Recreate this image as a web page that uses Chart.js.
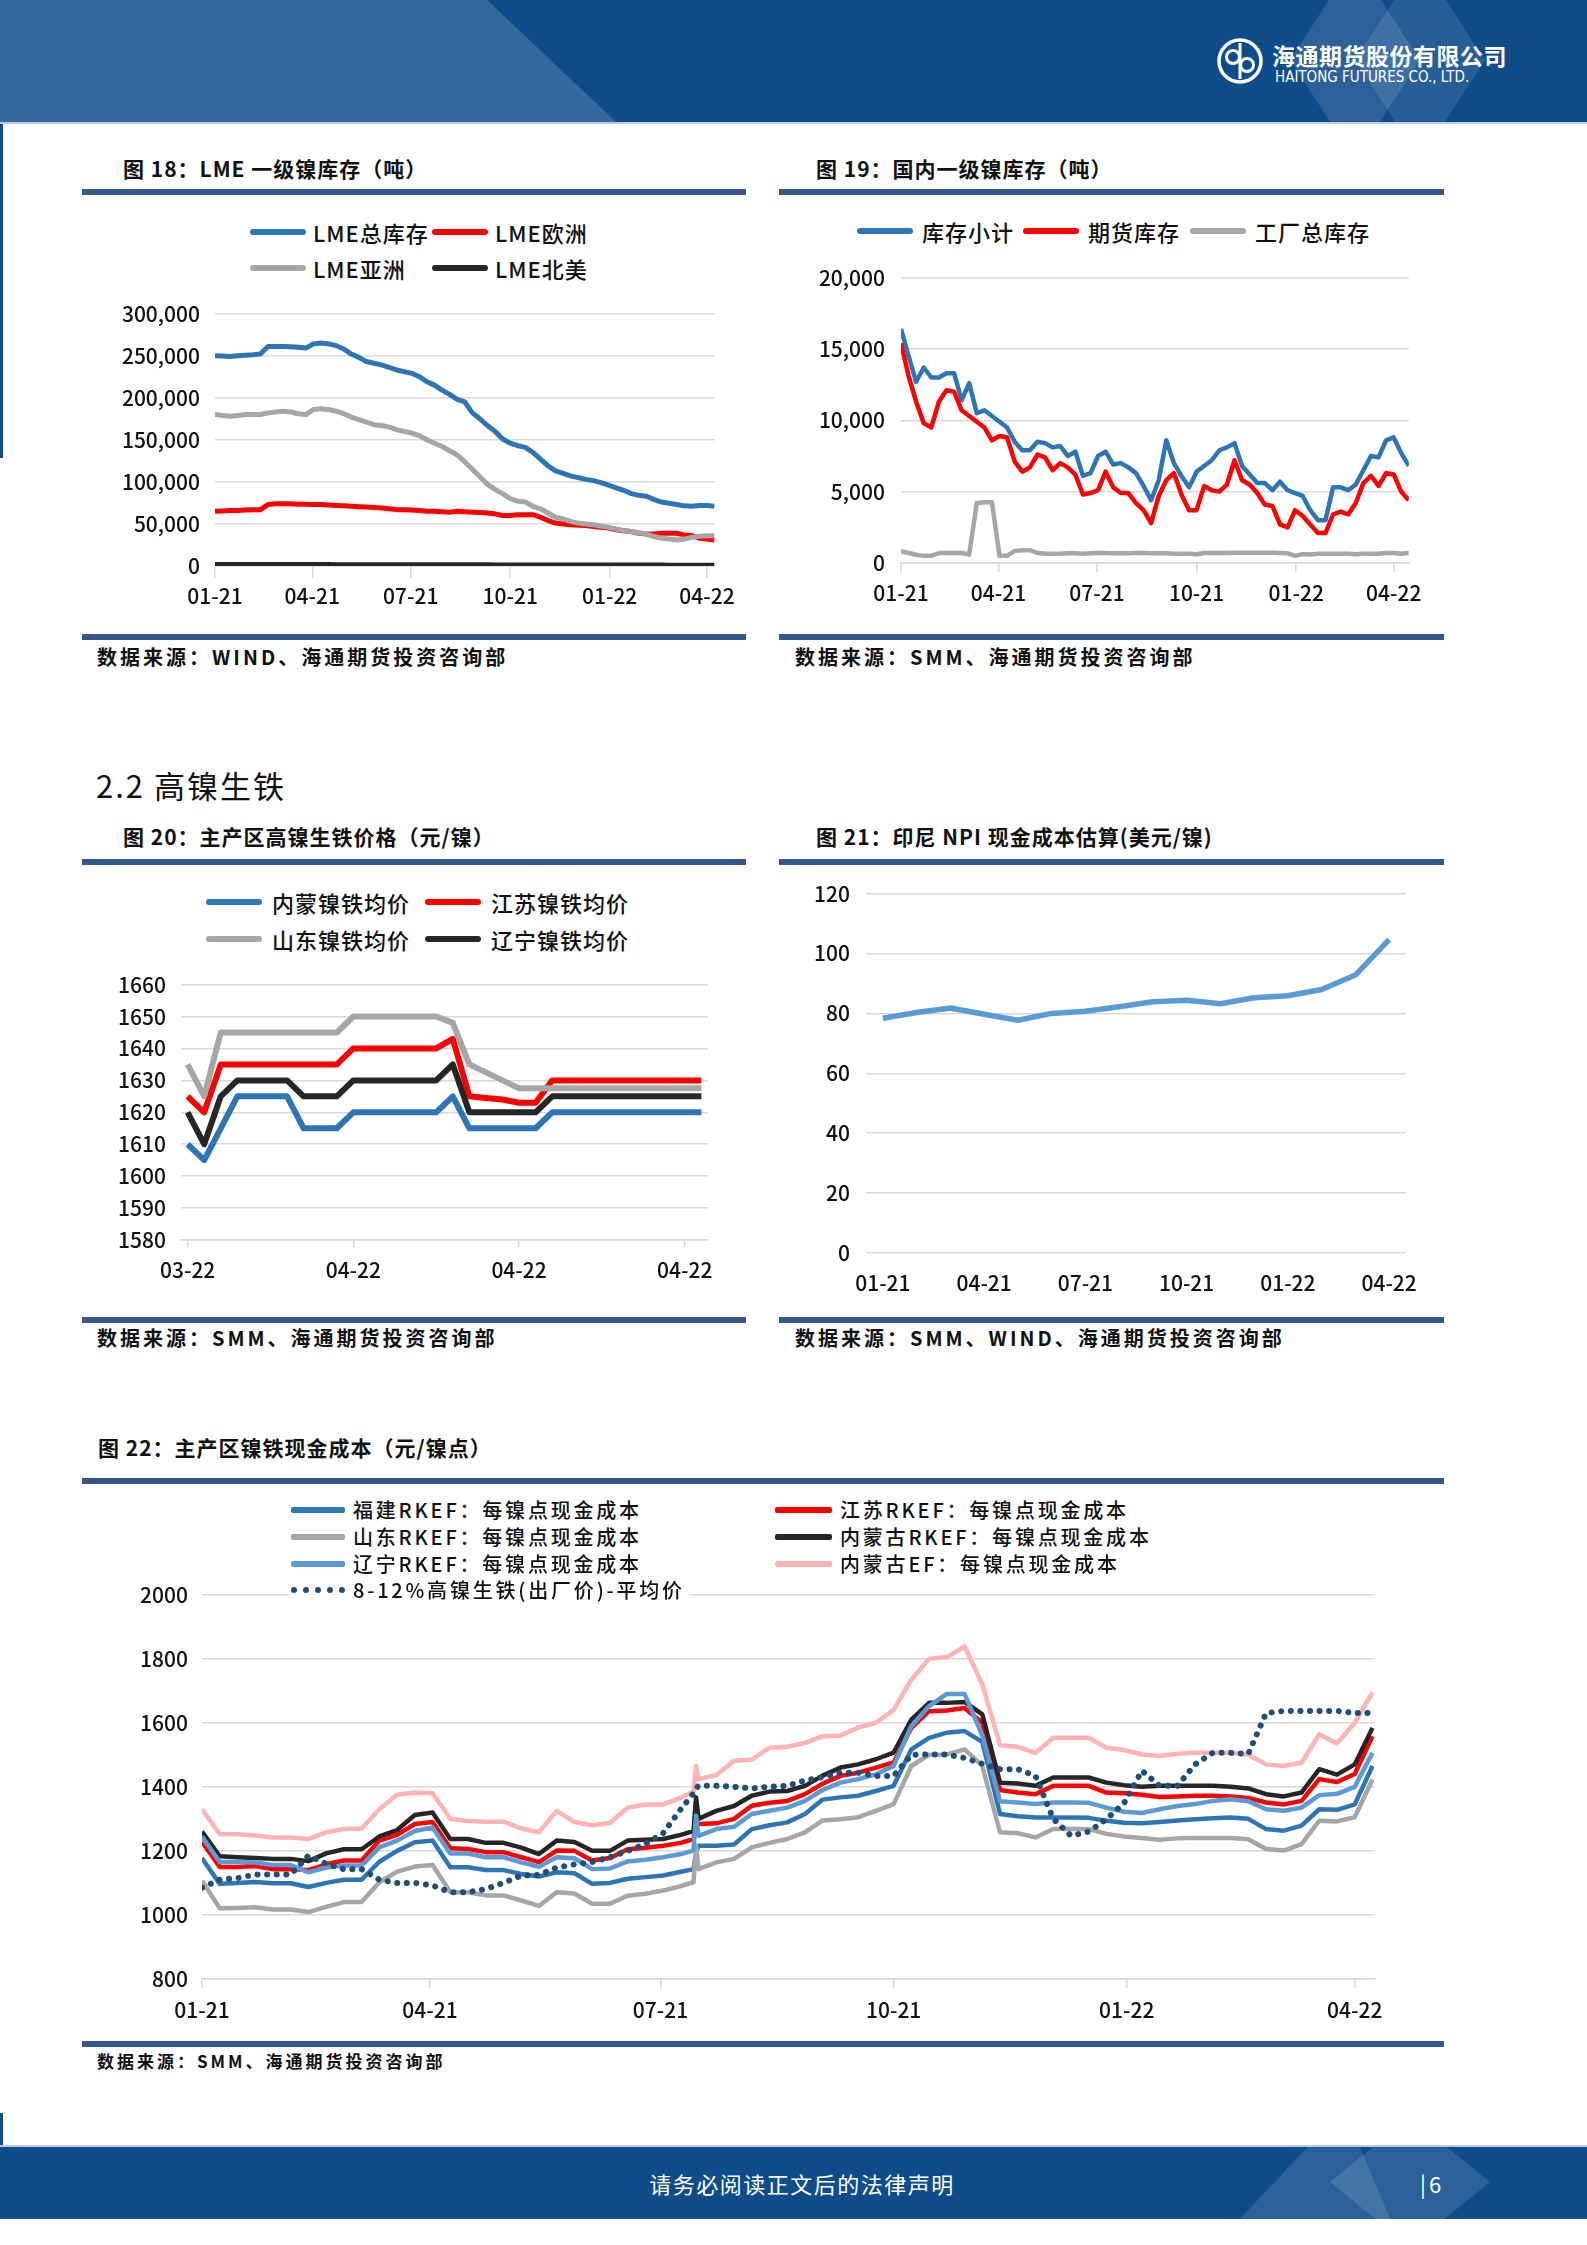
<!DOCTYPE html>
<html lang="zh-CN">
<head>
<meta charset="utf-8">
<title>镍库存与镍铁成本</title>
<script src="https://cdn.jsdelivr.net/npm/chart.js@4.4.1/dist/chart.umd.min.js"></script>
<style>
  html, body { margin: 0; padding: 0; background: #fff; }
  #page { position: relative; width: 1587px; height: 2245px; overflow: hidden; background: #fff;
    font-family: "Noto Sans CJK SC", "Noto Sans", sans-serif; color: #111; }
  .abs { position: absolute; }
  .title { position: absolute; font-size: 21px; font-weight: 700; line-height: 1; white-space: nowrap;
    transform: translateY(-50%); letter-spacing: 1px; }
  .rule { position: absolute; height: 6px; background: #34588c; }
  .src { position: absolute; font-size: 20px; font-weight: 700; line-height: 1; white-space: nowrap;
    transform: translateY(-50%); letter-spacing: 3px; }
  .lg { position: absolute; z-index: 2; display: flex; align-items: center; white-space: nowrap; line-height: 1;
    transform: translateY(-50%); font-size: 22px; font-weight: 500; letter-spacing: 1px; }
  .lg.small { font-size: 20px; letter-spacing: 2.8px; }
  .sw { display: inline-block; height: 6px; border-radius: 3px; }
  canvas { position: absolute; }
</style>
</head>
<body>
<div id="page">

  <!-- header band -->
  <div class="abs" style="left:0;top:0;width:1587px;height:122px;background:#0e4c8a;overflow:hidden">
    <div class="abs" style="left:0;top:0;width:620px;height:122px;background:#35699b;clip-path:polygon(0 0,487px 0,616px 122px,0 122px)"></div>
    <div class="abs" style="left:1290px;top:-40px;width:130px;height:200px;background:rgba(255,255,255,0.12);clip-path:polygon(50% 0,100% 50%,50% 100%,0 50%)"></div>
    <div class="abs" style="left:1355px;top:-40px;width:130px;height:200px;background:rgba(255,255,255,0.10);clip-path:polygon(50% 0,100% 50%,50% 100%,0 50%)"></div>
    <svg class="abs" style="left:1216px;top:37px" width="48" height="48" viewBox="0 0 48 48">
      <circle cx="24" cy="24" r="21" fill="none" stroke="#fff" stroke-width="3.5"/>
      <circle cx="17" cy="20" r="6.5" fill="none" stroke="#fff" stroke-width="3"/>
      <circle cx="31" cy="28" r="6.5" fill="none" stroke="#fff" stroke-width="3"/>
      <path d="M24 6 V42" stroke="#fff" stroke-width="3"/>
    </svg>
    <div class="abs" style="left:1272px;top:44px;font-size:23px;font-weight:700;color:#fff;letter-spacing:0.5px;line-height:1;white-space:nowrap">海通期货股份有限公司</div>
    <div class="abs" style="left:1275px;top:70px;font-size:15px;color:#fff;line-height:1;white-space:nowrap;font-family:'Liberation Sans Narrow','DejaVu Sans Condensed',sans-serif">HAITONG FUTURES CO., LTD.</div>
  </div>
  <div class="abs" style="left:0;top:122px;width:1587px;height:2px;background:#b7cbe2"></div>
  <div class="abs" style="left:0;top:124px;width:3px;height:334px;background:#0e4c8a"></div>

  <!-- 图18 / 图19 -->
  <div class="title" style="left:123px;top:168px">图 18：LME 一级镍库存（吨）</div>
  <div class="title" style="left:816px;top:168px">图 19：国内一级镍库存（吨）</div>
  <div class="rule" style="left:82px;top:189px;width:664px"></div>
  <div class="rule" style="left:779px;top:189px;width:665px"></div>

  <div class="lg" style="left:250px;top:232px"><span class="sw" style="width:56px;background:#2e75b6;margin-right:7px"></span>LME总库存</div>
  <div class="lg" style="left:432px;top:232px"><span class="sw" style="width:56px;background:#ff0000;margin-right:7px"></span>LME欧洲</div>
  <div class="lg" style="left:250px;top:268px"><span class="sw" style="width:56px;background:#a6a6a6;margin-right:7px"></span>LME亚洲</div>
  <div class="lg" style="left:432px;top:268px"><span class="sw" style="width:56px;background:#262626;margin-right:7px"></span>LME北美</div>

  <div class="lg" style="left:857px;top:231px"><span class="sw" style="width:56px;background:#2e75b6;margin-right:9px"></span>库存小计</div>
  <div class="lg" style="left:1023px;top:231px"><span class="sw" style="width:56px;background:#ff0000;margin-right:9px"></span>期货库存</div>
  <div class="lg" style="left:1190px;top:231px"><span class="sw" style="width:56px;background:#a6a6a6;margin-right:9px"></span>工厂总库存</div>

  <canvas id="c18" width="640" height="334" style="left:100px;top:286px"></canvas>
  <canvas id="c19" width="640" height="371" style="left:790px;top:249px"></canvas>

  <div class="rule" style="left:82px;top:634px;width:664px"></div>
  <div class="rule" style="left:779px;top:634px;width:665px"></div>
  <div class="src" style="left:97px;top:657px">数据来源：WIND、海通期货投资咨询部</div>
  <div class="src" style="left:795px;top:657px">数据来源：SMM、海通期货投资咨询部</div>

  <!-- 2.2 -->
  <div class="abs" style="left:96px;top:769px;font-size:31px;letter-spacing:2px;line-height:1;white-space:nowrap">2.2 高镍生铁</div>

  <!-- 图20 / 图21 -->
  <div class="title" style="left:123px;top:836px">图 20：主产区高镍生铁价格（元/镍）</div>
  <div class="title" style="left:816px;top:836px">图 21：印尼 NPI 现金成本估算(美元/镍)</div>
  <div class="rule" style="left:82px;top:859px;width:664px"></div>
  <div class="rule" style="left:779px;top:859px;width:665px"></div>

  <div class="lg" style="left:206px;top:902px"><span class="sw" style="width:56px;background:#2e75b6;margin-right:10px"></span>内蒙镍铁均价</div>
  <div class="lg" style="left:425px;top:902px"><span class="sw" style="width:56px;background:#ff0000;margin-right:10px"></span>江苏镍铁均价</div>
  <div class="lg" style="left:206px;top:939px"><span class="sw" style="width:56px;background:#a6a6a6;margin-right:10px"></span>山东镍铁均价</div>
  <div class="lg" style="left:425px;top:939px"><span class="sw" style="width:56px;background:#262626;margin-right:10px"></span>辽宁镍铁均价</div>

  <canvas id="c20" width="640" height="343" style="left:90px;top:957px"></canvas>
  <canvas id="c21" width="650" height="435" style="left:780px;top:865px"></canvas>

  <div class="rule" style="left:82px;top:1317px;width:664px"></div>
  <div class="rule" style="left:779px;top:1317px;width:665px"></div>
  <div class="src" style="left:97px;top:1338px">数据来源：SMM、海通期货投资咨询部</div>
  <div class="src" style="left:795px;top:1338px">数据来源：SMM、WIND、海通期货投资咨询部</div>

  <!-- 图22 -->
  <div class="title" style="left:98px;top:1447px">图 22：主产区镍铁现金成本（元/镍点）</div>
  <div class="rule" style="left:82px;top:1478px;width:1362px"></div>

  <div class="lg small" style="left:291px;top:1510px"><span class="sw" style="width:54px;background:#2e75b6;border-radius:2px;margin-right:8px"></span>福建RKEF：每镍点现金成本</div>
  <div class="lg small" style="left:775px;top:1510px"><span class="sw" style="width:57px;background:#ff0000;border-radius:2px;margin-right:8px"></span>江苏RKEF：每镍点现金成本</div>
  <div class="lg small" style="left:291px;top:1537px"><span class="sw" style="width:54px;background:#a6a6a6;border-radius:2px;margin-right:8px"></span>山东RKEF：每镍点现金成本</div>
  <div class="lg small" style="left:775px;top:1537px"><span class="sw" style="width:57px;background:#262626;border-radius:2px;margin-right:8px"></span>内蒙古RKEF：每镍点现金成本</div>
  <div class="lg small" style="left:291px;top:1564px"><span class="sw" style="width:54px;background:#5b9bd5;border-radius:2px;margin-right:8px"></span>辽宁RKEF：每镍点现金成本</div>
  <div class="lg small" style="left:775px;top:1564px"><span class="sw" style="width:57px;background:#ffb3b3;border-radius:2px;margin-right:8px"></span>内蒙古EF：每镍点现金成本</div>
  <div class="lg small" style="left:289px;top:1590px;background:#fff;padding:2px 4px 2px 2px"><span style="display:inline-block;width:54px;border-top:6px dotted #1f4e79;margin-right:8px"></span>8-12%高镍生铁(出厂价)-平均价</div>

  <canvas id="c22" width="1300" height="472" style="left:100px;top:1568px"></canvas>

  <div class="rule" style="left:82px;top:2041px;width:1362px"></div>
  <div class="src" style="left:97px;top:2060px;font-size:17px;letter-spacing:3px">数据来源：SMM、海通期货投资咨询部</div>

  <!-- footer band -->
  <div class="abs" style="left:0;top:2113px;width:3px;height:70px;background:#0e4c8a"></div>
  <div class="abs" style="left:0;top:2145px;width:1587px;height:2px;background:#b7cbe2"></div>
  <div class="abs" style="left:0;top:2147px;width:1587px;height:72px;background:#0e4c8a;overflow:hidden">
    <div class="abs" style="left:1240px;top:0;width:150px;height:72px;background:rgba(255,255,255,0.12);clip-path:polygon(45% 0,80% 0,100% 100%,0 100%)"></div>
    <div class="abs" style="left:1330px;top:-30px;width:160px;height:130px;background:rgba(255,255,255,0.12);clip-path:polygon(50% 0,100% 50%,50% 100%,0 50%)"></div>
    <div class="abs" style="left:0;top:36px;width:1604px;text-align:center;transform:translateY(-50%);font-size:22px;color:#fff;letter-spacing:1.5px;line-height:1">请务必阅读正文后的法律声明</div>
    <div class="abs" style="left:1420px;top:36px;transform:translateY(-50%);font-size:22px;color:#fff;line-height:1;letter-spacing:3px">|6</div>
  </div>
</div>

<script>
// shared quarter ticks (days since 2021-01-01)
const quarterTicks = [0, 90, 181, 273, 365, 455];
const quarterLabels = ['01-21', '04-21', '07-21', '10-21', '01-22', '04-22'];

// 图18 LME stocks, weekly, tonnes
const lmeTotal = [250000, 249500, 249000, 250000, 250500, 251000, 252000, 261000, 261000, 261000,
  260500, 260000, 259000, 264000, 265000, 264000, 262000, 258000, 252000, 248000,
  243000, 241000, 239000, 236000, 233000, 231000, 229000, 225000, 219000, 215000,
  209000, 204000, 198000, 195000, 182000, 175000, 167000, 160000, 151000, 146000,
  143000, 141000, 135000, 127000, 119000, 113000, 110000, 107000, 105000, 103000,
  101500, 99000, 96000, 93000, 90000, 86000, 84000, 83000, 79000, 76000,
  74500, 73000, 71500, 71000, 72000, 72000, 71000];
const lmeEurope = [65000, 65500, 66000, 66000, 66500, 67000, 67000, 73000, 74000, 74000,
  74000, 73500, 73500, 73000, 73000, 72500, 72000, 71500, 71000, 70500,
  70000, 69500, 69000, 68000, 67000, 67000, 66500, 66000, 65000, 65000,
  64500, 64000, 65000, 64500, 64000, 63500, 63000, 62000, 60000, 60000,
  61000, 61000, 61000, 58000, 54000, 51000, 50000, 49000, 48500, 48000,
  47000, 46000, 45000, 43000, 42000, 41000, 39000, 38000, 38000, 39000,
  39000, 39000, 37000, 36000, 33000, 32000, 31000];
const lmeAsia = [180000, 179000, 178000, 179000, 180000, 180000, 180000, 182000, 183000, 184000,
  183000, 181000, 180000, 186000, 187000, 186000, 184000, 181000, 177000, 174000,
  171000, 168000, 167000, 165000, 162000, 160000, 158000, 155000, 150000, 146000,
  142000, 137000, 132000, 124000, 115000, 106000, 97000, 91000, 86000, 80000,
  77000, 76000, 71000, 68000, 63000, 58000, 56000, 53000, 51000, 50000,
  49000, 47500, 46000, 44000, 42000, 41000, 39500, 38000, 35000, 33000,
  32000, 31000, 32000, 34000, 35500, 36000, 36000];
const lmeNorthAmerica = [1800, 1800, 1800, 1800, 1800, 1800, 1800, 1700, 1700, 1700,
  1700, 1700, 1700, 1700, 1700, 1700, 1600, 1600, 1600, 1600,
  1600, 1600, 1600, 1500, 1500, 1500, 1500, 1500, 1500, 1500,
  1400, 1400, 1400, 1400, 1400, 1400, 1400, 1300, 1300, 1300,
  1300, 1300, 1300, 1300, 1300, 1200, 1200, 1200, 1200, 1200,
  1200, 1200, 1200, 1100, 1100, 1100, 1100, 1100, 1100, 1100,
  1000, 1000, 1000, 1000, 1000, 1000, 1000];

// 图19 domestic stocks, weekly, tonnes
const cnSubtotal = [16400, 14500, 12700, 13700, 13000, 13000, 13300, 13300, 11400, 12600,
  10500, 10700, 10300, 9900, 9500, 8500, 7900, 7900, 8500, 8400,
  8100, 8200, 7500, 7800, 6100, 6300, 7500, 7800, 6900, 7000,
  6700, 6300, 5400, 4400, 5800, 8600, 7000, 6100, 5300, 6400,
  6800, 7200, 7900, 8100, 8400, 6800, 6200, 5600, 5600, 5100,
  5700, 5100, 4900, 4700, 3700, 3000, 3000, 5300, 5300, 5100,
  5500, 6500, 7500, 7400, 8600, 8800, 7700, 6800];
const cnFutures = [15400, 13100, 11300, 9800, 9500, 11300, 12100, 12000, 10700, 10300,
  9900, 9500, 8600, 8900, 8800, 7100, 6400, 6700, 7600, 7400,
  6500, 7000, 6700, 6200, 4800, 4900, 5100, 6400, 5300, 4900,
  4900, 4200, 3700, 2800, 4700, 5800, 6300, 4800, 3700, 3700,
  5400, 5100, 5000, 5500, 7200, 5800, 5500, 4900, 4100, 4000,
  2700, 2500, 3700, 3300, 2700, 2100, 2100, 3400, 3600, 3400,
  4200, 5600, 6100, 5400, 6300, 6200, 5000, 4400];
const cnFactory = [820, 700, 580, 500, 500, 700, 700, 700, 700, 600,
  4200, 4250, 4250, 500, 500, 850, 900, 900, 700, 650,
  650, 650, 680, 680, 650, 680, 700, 700, 680, 680,
  680, 700, 700, 680, 680, 680, 650, 650, 650, 620,
  700, 700, 700, 700, 720, 720, 720, 720, 720, 720,
  700, 680, 500, 620, 600, 650, 650, 650, 650, 650,
  620, 650, 650, 650, 700, 700, 650, 700];

// 图20 NPI prices, daily (元/镍)
const npiPriceTicks = [0, 10, 20, 30];
const npiPriceLabels = ['03-22', '04-22', '04-22', '04-22'];
const npiNeimeng = [1610, 1605, 1615, 1625, 1625, 1625, 1625, 1615, 1615, 1615,
  1620, 1620, 1620, 1620, 1620, 1620, 1625, 1615, 1615, 1615,
  1615, 1615, 1620, 1620, 1620, 1620, 1620, 1620, 1620, 1620, 1620, 1620];
const npiJiangsu = [1625, 1620, 1635, 1635, 1635, 1635, 1635, 1635, 1635, 1635,
  1640, 1640, 1640, 1640, 1640, 1640, 1643, 1625, 1624.5, 1624,
  1623, 1623, 1630, 1630, 1630, 1630, 1630, 1630, 1630, 1630, 1630, 1630];
const npiShandong = [1635, 1625, 1645, 1645, 1645, 1645, 1645, 1645, 1645, 1645,
  1650, 1650, 1650, 1650, 1650, 1650, 1648, 1635, 1632.5, 1630,
  1627.5, 1627.5, 1627.5, 1627.5, 1627.5, 1627.5, 1627.5, 1627.5, 1627.5, 1627.5, 1627.5, 1627.5];
const npiLiaoning = [1620, 1610, 1625, 1630, 1630, 1630, 1630, 1625, 1625, 1625,
  1630, 1630, 1630, 1630, 1630, 1630, 1635, 1620, 1620, 1620,
  1620, 1620, 1625, 1625, 1625, 1625, 1625, 1625, 1625, 1625, 1625, 1625];

// 图21 Indonesia NPI cash cost, monthly (美元/镍)
const indoMonths = ['01-21', '02-21', '03-21', '04-21', '05-21', '06-21', '07-21', '08-21',
  '09-21', '10-21', '11-21', '12-21', '01-22', '02-22', '03-22', '04-22'];
const indoCost = [78.4, 80.3, 81.8, 79.7, 77.7, 80.0, 80.7, 82.2, 83.9, 84.4, 83.2, 85.2, 85.9, 88.0, 92.8, 104.6];

// 图22 cash cost by region (元/镍点), days since 2021-01-01
const costDays = [0, 7, 14, 21, 28, 35, 42, 49, 56, 63, 70, 77, 84, 91, 98, 105, 112, 119, 126, 133,
  140, 147, 154, 161, 168, 175, 182, 189, 194, 195,
  196, 203, 210, 217, 224, 231, 238, 245, 252, 259, 266, 273, 280, 287, 294, 301, 308, 315, 322, 329,
  336, 343, 350, 357, 364, 371, 378, 385, 392, 399, 406, 413, 420, 427, 434, 441, 448, 455, 462];
const costFujian = [1177, 1097, 1100, 1103, 1099, 1099, 1087, 1100, 1110, 1110, 1166, 1200, 1227, 1232, 1149, 1149, 1140, 1140, 1128, 1120,
  1133, 1130, 1097, 1100, 1113, 1118, 1123, 1135, 1143, 1195,
  1216, 1216, 1220, 1268, 1280, 1289, 1315, 1360, 1367, 1372, 1387, 1403, 1517, 1553, 1569, 1574, 1540, 1315, 1308, 1304,
  1304, 1304, 1303, 1294, 1288, 1286, 1290, 1295, 1299, 1302, 1304, 1300, 1268, 1263, 1279, 1330, 1328, 1345, 1465];
const costJiangsu = [1228, 1150, 1150, 1153, 1143, 1143, 1140, 1158, 1170, 1170, 1232, 1250, 1284, 1290, 1208, 1206, 1196, 1196, 1180, 1165,
  1201, 1200, 1170, 1178, 1205, 1210, 1216, 1225, 1237, 1280,
  1284, 1286, 1300, 1341, 1350, 1356, 1377, 1410, 1434, 1444, 1460, 1476, 1584, 1636, 1638, 1646, 1600, 1390, 1382, 1377,
  1403, 1403, 1403, 1382, 1380, 1375, 1368, 1370, 1372, 1372, 1370, 1365, 1351, 1345, 1356, 1424, 1415, 1440, 1558];
const costShandong = [1107, 1021, 1022, 1024, 1017, 1017, 1009, 1025, 1040, 1040, 1102, 1135, 1151, 1156, 1071, 1071, 1061, 1061, 1045, 1028,
  1071, 1067, 1035, 1035, 1060, 1066, 1076, 1090, 1102, 1216,
  1143, 1164, 1175, 1211, 1225, 1237, 1258, 1295, 1299, 1305, 1325, 1346, 1465, 1500, 1501, 1517, 1465, 1258, 1255, 1242,
  1268, 1268, 1268, 1253, 1245, 1240, 1235, 1239, 1240, 1240, 1240, 1236, 1206, 1201, 1221, 1294, 1292, 1305, 1423];
const costNeimengRkef = [1260, 1183, 1180, 1178, 1175, 1175, 1168, 1192, 1205, 1205, 1245, 1265, 1312, 1320, 1237, 1237, 1225, 1225, 1210, 1190,
  1232, 1228, 1200, 1200, 1232, 1235, 1237, 1250, 1262, 1367,
  1300, 1325, 1340, 1372, 1385, 1387, 1403, 1435, 1460, 1470, 1486, 1507, 1610, 1662, 1662, 1665, 1626, 1413, 1410, 1403,
  1429, 1429, 1429, 1413, 1405, 1400, 1403, 1403, 1403, 1403, 1400, 1395, 1377, 1370, 1382, 1455, 1438, 1470, 1584];
const costLiaoning = [1245, 1165, 1165, 1164, 1156, 1156, 1133, 1148, 1154, 1154, 1211, 1232, 1262, 1273, 1192, 1192, 1180, 1180, 1164, 1150,
  1180, 1177, 1143, 1145, 1167, 1172, 1180, 1190, 1201, 1310,
  1247, 1268, 1275, 1315, 1325, 1335, 1356, 1390, 1413, 1424, 1439, 1465, 1590, 1652, 1690, 1690, 1560, 1355, 1351, 1346,
  1351, 1351, 1350, 1335, 1322, 1318, 1330, 1340, 1346, 1356, 1361, 1355, 1330, 1325, 1335, 1374, 1378, 1400, 1506];
const costNeimengEf = [1330, 1252, 1252, 1248, 1242, 1242, 1237, 1258, 1268, 1270, 1330, 1375, 1382, 1380, 1300, 1293, 1291, 1291, 1270, 1258,
  1325, 1290, 1280, 1287, 1335, 1345, 1345, 1366, 1385, 1465,
  1424, 1437, 1481, 1485, 1522, 1525, 1537, 1558, 1560, 1585, 1600, 1640, 1735, 1800, 1805, 1838, 1720, 1530, 1525, 1506,
  1553, 1553, 1553, 1522, 1515, 1501, 1496, 1503, 1506, 1506, 1506, 1500, 1470, 1465, 1475, 1564, 1535, 1600, 1695];
const npiAvgPrice = [1085, 1110, 1115, 1126, 1126, 1126, 1185, 1160, 1143, 1143, 1110, 1100, 1100, 1092, 1071, 1071, 1081, 1100, 1123, 1125,
  1148, 1158, 1165, 1180, 1200, 1222, 1255, 1330, 1380, 1395,
  1403, 1403, 1400, 1395, 1400, 1403, 1420, 1430, 1444, 1444, 1434, 1434, 1500, 1501, 1501, 1490, 1472, 1455, 1455, 1434,
  1300, 1247, 1260, 1299, 1350, 1450, 1403, 1403, 1470, 1506, 1506, 1503, 1630, 1637, 1637, 1637, 1637, 1630, 1630];

const FONT = '"Noto Sans CJK SC", "Noto Sans", sans-serif';
const GRID = '#d9d9d9';
const TICK_FONT = { family: FONT, size: 21, weight: '500' };

Chart.defaults.font.family = FONT;
Chart.defaults.color = '#111';

function points(xs, ys) {
  return ys.map((y, i) => ({ x: xs[i], y }));
}

function weekly(values) {
  return points(values.map((_, i) => i * 7), values);
}

function line(data, color, width, extra) {
  return Object.assign({
    data,
    borderColor: color,
    backgroundColor: color,
    borderWidth: width,
    pointRadius: 0,
    tension: 0,
    fill: false,
    borderJoinStyle: 'round'
  }, extra || {});
}

function thousands(v) {
  return Number(v).toLocaleString('en-US');
}

function yAxis(min, max, step, width, pad, format) {
  return {
    min, max,
    afterFit: scale => { scale.width = width; },
    border: { display: false },
    grid: { color: GRID, lineWidth: 1.5, drawTicks: false },
    ticks: { stepSize: step, padding: pad, font: TICK_FONT, color: '#111', callback: format || (v => v) }
  };
}

function dateAxis(min, max, ticks, labels, height, tickLen, pad) {
  return {
    type: 'linear',
    min, max,
    afterBuildTicks: scale => { scale.ticks = ticks.map(v => ({ value: v })); },
    afterFit: scale => { scale.height = height; },
    border: { display: true, color: GRID, width: 1.5 },
    grid: { drawOnChartArea: false, drawTicks: true, tickLength: tickLen, color: GRID, lineWidth: 1.5 },
    ticks: { autoSkip: false, maxRotation: 0, padding: pad, font: TICK_FONT, color: '#111', callback: (v, i) => labels[i] }
  };
}

// top of the plot is set by the y labels (half line height + tick padding), so padding.top stays 0
function options(padding, scales) {
  return {
    responsive: false,
    maintainAspectRatio: false,
    animation: false,
    layout: { padding },
    plugins: { legend: { display: false }, tooltip: { enabled: false } },
    scales
  };
}

// 图18
new Chart(document.getElementById('c18'), {
  type: 'line',
  data: {
    datasets: [
      line(weekly(lmeNorthAmerica), '#262626', 5),
      line(weekly(lmeAsia), '#a6a6a6', 5),
      line(weekly(lmeEurope), '#ff0000', 5),
      line(weekly(lmeTotal), '#2e75b6', 5)
    ]
  },
  options: options({ top: 0, right: 24, left: 0, bottom: 0 }, {
    x: dateAxis(0, 462, quarterTicks, quarterLabels, 54, 12, 5),
    y: yAxis(0, 300000, 50000, 115, 15, thousands)
  })
});

// 图19
new Chart(document.getElementById('c19'), {
  type: 'line',
  data: {
    datasets: [
      line(weekly(cnFactory), '#a6a6a6', 4.5),
      line(weekly(cnFutures), '#ff0000', 4.5),
      line(weekly(cnSubtotal), '#2e75b6', 4.5)
    ]
  },
  options: options({ top: 0, right: 21, left: 0, bottom: 0 }, {
    x: dateAxis(0, 469, quarterTicks, quarterLabels, 57, 9, 8),
    y: yAxis(0, 20000, 5000, 111, 16, thousands)
  })
});

// 图20
const npiDayIndex = npiNeimeng.map((_, i) => i);
new Chart(document.getElementById('c20'), {
  type: 'line',
  data: {
    datasets: [
      line(points(npiDayIndex, npiLiaoning), '#262626', 6),
      line(points(npiDayIndex, npiShandong), '#a6a6a6', 6),
      line(points(npiDayIndex, npiJiangsu), '#ff0000', 6),
      line(points(npiDayIndex, npiNeimeng), '#2e75b6', 6)
    ]
  },
  options: options({ top: 0, right: 22, left: 0, bottom: 0 }, {
    x: dateAxis(-0.4, 31.4, npiPriceTicks, npiPriceLabels, 60, 7, 10),
    y: yAxis(1580, 1660, 10, 91, 15)
  })
});

// 图21
new Chart(document.getElementById('c21'), {
  type: 'line',
  data: {
    labels: indoMonths,
    datasets: [line(indoCost, '#5b9bd5', 5.5)]
  },
  options: options({ top: 0, right: 24, left: 0, bottom: 0 }, {
    x: {
      type: 'category',
      offset: true,
      afterFit: scale => { scale.height = 47; },
      border: { display: false },
      grid: { display: false },
      ticks: { autoSkip: false, maxRotation: 0, padding: 9, font: TICK_FONT, color: '#111',
        callback: (v, i) => (i % 3 === 0 ? indoMonths[i] : null) }
    },
    y: yAxis(0, 120, 20, 86, 16)
  })
});

// 图22
new Chart(document.getElementById('c22'), {
  type: 'line',
  data: {
    datasets: [
      line(points(costDays, npiAvgPrice), '#1f4e79', 6, { borderDash: [0.1, 9.5], borderCapStyle: 'round' }),
      line(points(costDays, costNeimengEf), '#ffb3b3', 4.5),
      line(points(costDays, costLiaoning), '#5b9bd5', 4.5),
      line(points(costDays, costNeimengRkef), '#262626', 4.5),
      line(points(costDays, costShandong), '#a6a6a6', 4.5),
      line(points(costDays, costJiangsu), '#ff0000', 4.5),
      line(points(costDays, costFujian), '#2e75b6', 4.5)
    ]
  },
  options: options({ top: 0, right: 25, left: 0, bottom: 0 }, {
    x: dateAxis(0, 463, quarterTicks, quarterLabels, 61, 9, 9),
    y: yAxis(800, 2000, 200, 102, 14)
  })
});
</script>
</body>
</html>
